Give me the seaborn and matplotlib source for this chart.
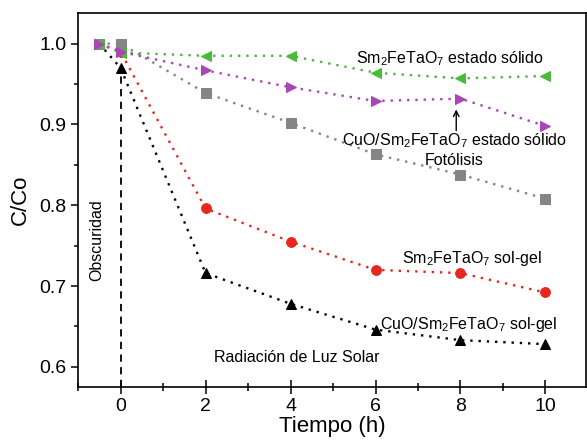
import matplotlib
matplotlib.use("Agg")
import matplotlib.pyplot as plt
import seaborn as sns
import pandas as pd
from matplotlib.ticker import MultipleLocator

sns.set_style("ticks", {'axes.edgecolor': 'black', 'xtick.color': 'black', 'ytick.color': 'black',
                        'text.color': 'black', 'axes.labelcolor': 'black'})
plt.rcParams['font.family'] = ['Liberation Sans', 'DejaVu Sans']
plt.rcParams['mathtext.fontset'] = 'custom'
plt.rcParams['mathtext.rm'] = 'Liberation Sans'
plt.rcParams['mathtext.it'] = 'Liberation Sans'

tiempo = [-0.5, 0, 2, 4, 6, 8, 10]
sm_solido = [1.0, 0.989, 0.985, 0.985, 0.964, 0.957, 0.960]
cuo_solido = [1.0, 0.990, 0.967, 0.946, 0.929, 0.932, 0.898]
fotolisis = [1.0, 1.0, 0.939, 0.902, 0.863, 0.838, 0.808]
sm_solgel = [1.0, 0.990, 0.796, 0.755, 0.720, 0.716, 0.692]
cuo_solgel = [1.0, 0.970, 0.716, 0.678, 0.646, 0.633, 0.628]

series = [
    (cuo_solgel, '#000000', '^'),
    (sm_solgel, '#e8261e', 'o'),
    (fotolisis, '#858585', 's'),
    (sm_solido, '#4cb83c', '<'),
    (cuo_solido, '#a846b8', '>'),
]

fig = plt.figure(figsize=(5.87, 4.40), dpi=100)
ax = fig.add_axes([0.133, 0.1205, 0.865, 0.85])

for vals, col, mk in series:
    df = pd.DataFrame({'t': tiempo, 'c': vals})
    sns.lineplot(data=df, x='t', y='c', ax=ax, color=col, marker=mk,
                 markersize=7, markeredgecolor=col, linestyle=(0, (1, 2.5)), linewidth=1.7,
                 estimator=None, sort=False)

ymin, ymax = 0.575, 1.038
ax.set_xlim(-1, 10.95)
ax.set_ylim(ymin, ymax)

# dark period marker
ax.plot([0, 0], [ymin, 0.962], color='black', linestyle=(0, (4, 3)), linewidth=1.3, zorder=1)

ax.xaxis.set_major_locator(MultipleLocator(2))
ax.xaxis.set_minor_locator(MultipleLocator(1))
ax.yaxis.set_major_locator(MultipleLocator(0.1))
ax.yaxis.set_minor_locator(MultipleLocator(0.05))
ax.set_xticks([0, 2, 4, 6, 8, 10])
ax.tick_params(axis='x', which='major', direction='inout', length=10, width=1.1, labelsize=14, pad=3)
ax.tick_params(axis='x', which='minor', direction='inout', length=6, width=1.1)
ax.tick_params(axis='y', which='major', direction='out', length=5, width=1.1, labelsize=14)
ax.tick_params(axis='y', which='minor', direction='out', length=3, width=1.1)
ax.yaxis.set_major_formatter(plt.FuncFormatter(lambda v, p: f"{v:.1f}"))
for s in ax.spines.values():
    s.set_linewidth(1.2)

ax.set_xlabel('Tiempo (h)', fontsize=16, labelpad=1)
ax.set_ylabel('C/Co', fontsize=16, labelpad=6)

fs = 11.5
ax.text(7.74, 0.981, r'Sm$_2$FeTaO$_7$ estado sólido', ha='center', va='center', fontsize=fs)
ax.annotate('', xy=(7.9, 0.922), xytext=(7.9, 0.889),
            arrowprops=dict(arrowstyle='->', color='black', lw=1.0))
ax.text(7.86, 0.880, r'CuO/Sm$_2$FeTaO$_7$ estado sólido', ha='center', va='center', fontsize=fs)
ax.text(7.86, 0.855, 'Fotólisis', ha='center', va='center', fontsize=fs)
ax.text(8.28, 0.734, r'Sm$_2$FeTaO$_7$ sol-gel', ha='center', va='center', fontsize=fs)
ax.text(8.2, 0.652, r'CuO/Sm$_2$FeTaO$_7$ sol-gel', ha='center', va='center', fontsize=fs)
ax.text(4.14, 0.611, 'Radiación de Luz Solar', ha='center', va='center', fontsize=fs)
ax.text(-0.56, 0.757, 'Obscuridad', ha='center', va='center', rotation=90, fontsize=fs)

fig.savefig('out.png', dpi=100)
